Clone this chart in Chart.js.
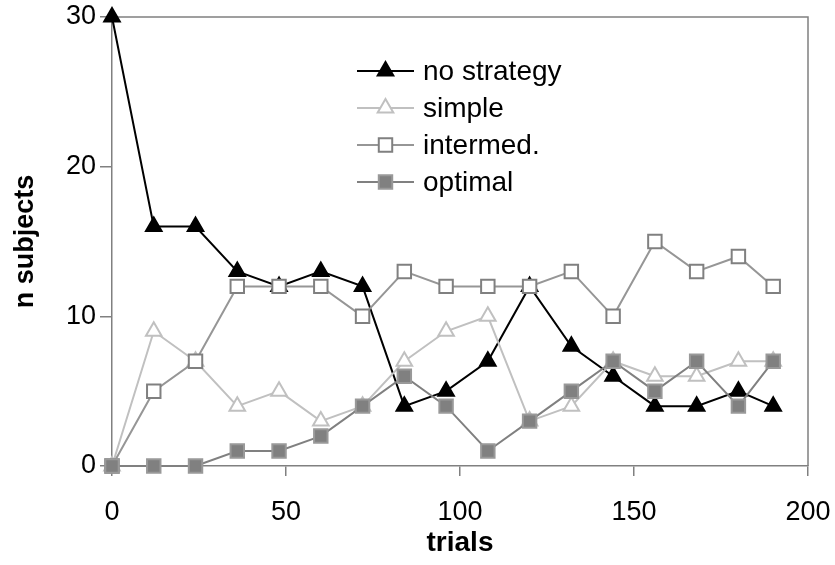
<!DOCTYPE html>
<html>
<head>
<meta charset="utf-8">
<script src="https://cdn.jsdelivr.net/npm/chart.js@4/dist/chart.umd.min.js"></script>
<style>
  html, body { margin: 0; padding: 0; background: #fff; }
  #wrap { width: 835px; height: 565px; }
</style>
</head>
<body>
<div id="wrap"><canvas id="c"></canvas></div>
<script>
// trials at which strategies were classified
const trials = [0, 12, 24, 36, 48, 60, 72, 84, 96, 108, 120, 132, 144, 156, 168, 180, 190];
const noStrategy = [30, 16, 16, 13, 12, 13, 12, 4, 5, 7, 12, 8, 6, 4, 4, 5, 4];
const simple     = [0, 9, 7, 4, 5, 3, 4, 7, 9, 10, 3, 4, 7, 6, 6, 7, 7];
const intermed   = [0, 5, 7, 12, 12, 12, 10, 13, 12, 12, 12, 13, 10, 15, 13, 14, 12];
const optimal    = [0, 0, 0, 1, 1, 2, 4, 6, 4, 1, 3, 5, 7, 5, 7, 4, 7];
const seriesNames = ['no strategy', 'simple', 'intermed.', 'optimal'];
const xTicks = [0, 50, 100, 150, 200];
const yTicks = [0, 10, 20, 30];

const FONT = '"Liberation Sans", Arial, sans-serif';
const toXY = (vals) => vals.map((v, i) => ({ x: trials[i], y: v }));

const datasets = [
    { label: seriesNames[0], data: toXY(noStrategy), borderColor: '#000', backgroundColor: '#000',
      pointBackgroundColor: '#000', pointBorderColor: '#000', pointStyle: 'triangle', pointRadius: 9, order: 4 },
    { label: seriesNames[1], data: toXY(simple), borderColor: '#c0c0c0', backgroundColor: '#c0c0c0',
      pointBackgroundColor: '#fff', pointBorderColor: '#c0c0c0', pointStyle: 'triangle', pointRadius: 9, order: 3 },
    { label: seriesNames[2], data: toXY(intermed), borderColor: '#969696', backgroundColor: '#969696',
      pointBackgroundColor: '#fff', pointBorderColor: '#808080', pointStyle: 'rect', pointRadius: 9.5, order: 2 },
    { label: seriesNames[3], data: toXY(optimal), borderColor: '#808080', backgroundColor: '#808080',
      pointBackgroundColor: '#808080', pointBorderColor: '#999', pointStyle: 'rect', pointRadius: 9.5, order: 1 },
].map(d => Object.assign({ borderWidth: 2, pointBorderWidth: 2, tension: 0, fill: false, clip: false }, d));

// plot frame + floating legend inside the plot
const framePlugin = {
    id: 'frame',
    beforeDatasetsDraw(chart) {
        const { ctx, chartArea: a } = chart;
        ctx.save();
        ctx.strokeStyle = '#808080';
        ctx.lineWidth = 1.5;
        ctx.beginPath();
        ctx.moveTo(a.left, a.top);
        ctx.lineTo(a.right, a.top);
        ctx.lineTo(a.right, a.bottom);
        ctx.stroke();
        ctx.restore();
    },
    afterDraw(chart) {
        const { ctx } = chart;
        const x0 = 357, y0 = 71, rowH = 37, lineLen = 57;
        ctx.save();
        ctx.font = '28px ' + FONT;
        ctx.textBaseline = 'middle';
        chart.data.datasets.forEach((ds, i) => {
            const y = y0 + i * rowH;
            ctx.strokeStyle = ds.borderColor;
            ctx.lineWidth = 2;
            ctx.beginPath();
            ctx.moveTo(x0, y);
            ctx.lineTo(x0 + lineLen, y);
            ctx.stroke();
            ctx.fillStyle = ds.pointBackgroundColor;
            ctx.strokeStyle = ds.pointBorderColor;
            Chart.helpers.drawPoint(ctx, { pointStyle: ds.pointStyle, radius: ds.pointRadius, rotation: 0, borderWidth: 2 },
                x0 + lineLen / 2, y);
            ctx.fillStyle = '#000';
            ctx.fillText(ds.label, x0 + lineLen + 9, y + 1);
        });
        ctx.restore();
    }
};

new Chart(document.getElementById('c'), {
    type: 'line',
    data: { datasets },
    options: {
        responsive: true,
        maintainAspectRatio: false,
        animation: false,
        layout: { padding: { top: 17, right: 27, left: 0, bottom: 0 } },
        plugins: { legend: { display: false }, tooltip: { enabled: false } },
        scales: {
            x: {
                type: 'linear', min: 0, max: 200,
                afterBuildTicks: (s) => { s.ticks = xTicks.map(v => ({ value: v })); },
                afterFit: (s) => { s.height = 99; s.paddingLeft = 0; s.paddingRight = 0; },
                grid: { drawOnChartArea: false, tickLength: 10, color: '#808080', lineWidth: 1.5 },
                border: { color: '#808080', width: 1.5 },
                ticks: { color: '#000', font: { family: FONT, size: 27 }, padding: 20, maxRotation: 0 },
                title: { display: true, text: 'trials', color: '#000', font: { family: FONT, size: 28, weight: 'bold' }, padding: { top: 0, bottom: 5 } },
            },
            y: {
                min: 0, max: 30,
                afterBuildTicks: (s) => { s.ticks = yTicks.map(v => ({ value: v })); },
                afterFit: (s) => { s.width = 112; s.paddingTop = 0; s.paddingBottom = 0; },
                grid: { drawOnChartArea: false, tickLength: 12, color: '#808080', lineWidth: 1.5 },
                border: { color: '#808080', width: 1.5 },
                ticks: { color: '#000', font: { family: FONT, size: 27 }, padding: 4 },
                title: { display: true, text: 'n subjects', color: '#000', font: { family: FONT, size: 27, weight: 'bold' }, padding: { top: 9, bottom: 0 } },
            },
        },
    },
    plugins: [framePlugin],
});
</script>
</body>
</html>
